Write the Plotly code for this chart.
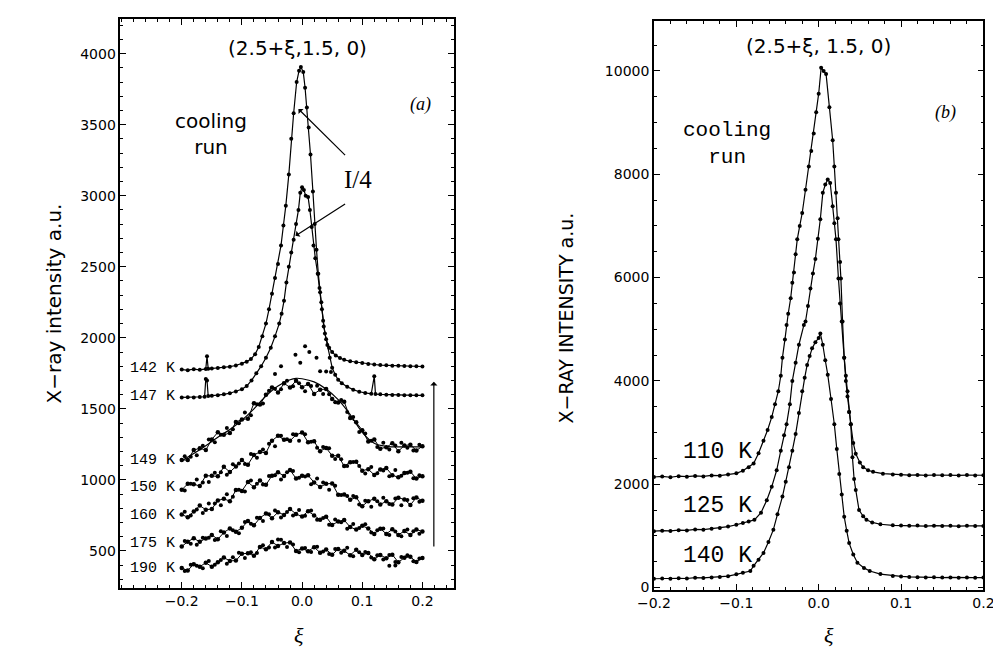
import plotly.graph_objects as go

# ---------------- panel (a): (2.5+xi, 1.5, 0), cooling run ----------------
XI_142 = [-0.200, -0.190, -0.180, -0.170, -0.160, -0.158, -0.156, -0.150, -0.140, -0.130,
          -0.120, -0.110, -0.100, -0.092, -0.085, -0.078, -0.072, -0.066, -0.060, -0.055,
          -0.050, -0.045, -0.040, -0.035, -0.031, -0.027, -0.022, -0.018, -0.014, -0.009,
          -0.005, -0.002, 0.002, 0.005, 0.008, 0.011, 0.014, 0.018, 0.021, 0.024,
          0.027, 0.030, 0.033, 0.036, 0.040, 0.045, 0.050, 0.056, 0.063, 0.070,
          0.080, 0.090, 0.100, 0.110, 0.120, 0.130, 0.140, 0.150, 0.160, 0.170,
          0.180, 0.190, 0.200]
I_142 = [1776, 1772, 1779, 1775, 1781, 1870, 1782, 1784, 1788, 1792,
         1797, 1805, 1818, 1832, 1850, 1885, 1935, 2010, 2100, 2200,
         2310, 2420, 2520, 2650, 2790, 2930, 3150, 3400, 3580, 3800,
         3880, 3905, 3870, 3760, 3620, 3480, 3290, 3030, 2800, 2620,
         2450, 2320, 2200, 2080, 1990, 1930, 1900, 1875, 1858, 1845,
         1835, 1828, 1822, 1816, 1812, 1808, 1806, 1804, 1803, 1801,
         1800, 1799, 1798]

XI_147 = [-0.200, -0.190, -0.180, -0.170, -0.162, -0.160, -0.158, -0.156, -0.150, -0.140,
          -0.130, -0.120, -0.110, -0.100, -0.092, -0.084, -0.076, -0.068, -0.060, -0.052,
          -0.045, -0.038, -0.034, -0.030, -0.026, -0.022, -0.018, -0.014, -0.010, -0.006,
          -0.003, 0.000, 0.003, 0.006, 0.010, 0.013, 0.016, 0.019, 0.022, 0.026,
          0.029, 0.032, 0.035, 0.038, 0.042, 0.046, 0.050, 0.055, 0.060, 0.066,
          0.075, 0.085, 0.095, 0.105, 0.115, 0.120, 0.122, 0.130, 0.140, 0.150,
          0.160, 0.170, 0.180, 0.190, 0.200]
I_147 = [1580, 1582, 1579, 1583, 1585, 1710, 1700, 1590, 1592, 1596,
         1602, 1610, 1622, 1638, 1660, 1700, 1750, 1800, 1860, 1930,
         2010, 2100, 2170, 2260, 2390, 2500, 2600, 2690, 2800, 2900,
         3020, 3060, 3040, 3000, 2990, 2900, 2780, 2650, 2560, 2450,
         2350, 2250, 2120, 2030, 1950, 1860, 1790, 1740, 1705, 1680,
         1655, 1635, 1620, 1612, 1606, 1730, 1604, 1602, 1600, 1598,
         1597, 1596, 1596, 1595, 1595]

# stray points between the scans
XI_STRAY = [-0.035, -0.011, -0.003, 0.005, 0.024, 0.030, 0.040, 0.048, -0.045, 0.012,
            0.145, 0.155, -0.040]
I_STRAY = [1800, 1880, 1825, 1940, 1860, 1765, 1762, 1760, 1745, 1900,
           395, 398, 580]

# noisy scans 149-190 K: whole-step and half-step readings
XI_A = [-0.20, -0.19, -0.18, -0.17, -0.16, -0.15, -0.14, -0.13, -0.12, -0.11,
        -0.10, -0.09, -0.08, -0.07, -0.06, -0.05, -0.04, -0.03, -0.02, -0.01,
        0.00, 0.01, 0.02, 0.03, 0.04, 0.05, 0.06, 0.07, 0.08, 0.09,
        0.10, 0.11, 0.12, 0.13, 0.14, 0.15, 0.16, 0.17, 0.18, 0.19, 0.20]
XI_H = [-0.195, -0.185, -0.175, -0.165, -0.155, -0.145, -0.135, -0.125, -0.115, -0.105,
        -0.095, -0.085, -0.075, -0.065, -0.055, -0.045, -0.035, -0.025, -0.015, -0.005,
        0.005, 0.015, 0.025, 0.035, 0.045, 0.055, 0.065, 0.075, 0.085, 0.095,
        0.105, 0.115, 0.125, 0.135, 0.145, 0.155, 0.165, 0.175, 0.185, 0.195]

I_149 = [1140, 1140, 1210, 1222, 1210, 1285, 1335, 1317, 1330, 1407,
         1425, 1430, 1540, 1530, 1600, 1650, 1615, 1680, 1650, 1698,
         1652, 1675, 1605, 1635, 1640, 1570, 1545, 1550, 1435, 1405,
         1350, 1270, 1285, 1220, 1230, 1257, 1202, 1242, 1247, 1207, 1237]
I_149_H = [1167, 1162, 1173, 1241, 1285, 1265, 1318, 1366, 1356, 1398,
           1475, 1455, 1532, 1537, 1627, 1642, 1637, 1697, 1659, 1680,
           1623, 1660, 1662, 1605, 1602, 1547, 1562, 1477, 1442, 1337,
           1327, 1275, 1232, 1262, 1213, 1242, 1262, 1227, 1207, 1247]
I_150 = [930, 972, 970, 957, 1030, 1030, 1025, 1092, 1055, 1095,
         1140, 1107, 1175, 1197, 1190, 1275, 1310, 1283, 1275, 1317,
         1333, 1265, 1272, 1202, 1225, 1170, 1170, 1097, 1125, 1127,
         1065, 1075, 1035, 1074, 1083, 1033, 1018, 1048, 1058, 1009, 1025]
I_150_H = [926, 973, 1003, 981, 985, 1050, 1053, 1036, 1110, 1115,
           1111, 1183, 1156, 1213, 1255, 1237, 1311, 1286, 1321, 1275,
           1321, 1268, 1227, 1231, 1222, 1147, 1146, 1098, 1126, 1098,
           1045, 1090, 1047, 1066, 1025, 1070, 1030, 1050, 1011, 1032]
I_160 = [757, 737, 778, 819, 790, 795, 855, 867, 850, 928,
         922, 985, 948, 995, 965, 1030, 1053, 1028, 1070, 1010,
         1030, 1032, 982, 950, 972, 975, 895, 898, 860, 877,
         815, 850, 868, 827, 850, 827, 875, 862, 824, 876, 853]
I_160_H = [775, 750, 791, 767, 833, 833, 821, 899, 882, 930,
           919, 995, 972, 968, 1028, 1032, 1003, 1054, 1063, 1015,
           1024, 970, 1009, 981, 931, 958, 894, 887, 886, 826,
           853, 811, 850, 874, 831, 869, 821, 858, 870, 847]
I_175 = [531, 565, 589, 564, 588, 613, 582, 630, 658, 635,
         663, 710, 680, 732, 763, 730, 773, 753, 795, 760,
         742, 780, 750, 720, 740, 683, 707, 717, 668, 650,
         677, 658, 620, 657, 620, 652, 613, 640, 612, 650, 637]
I_175_H = [570, 550, 544, 593, 593, 577, 638, 606, 645, 625,
           704, 692, 733, 710, 759, 784, 735, 774, 750, 788,
           748, 785, 720, 732, 684, 722, 702, 657, 689, 661,
           687, 629, 646, 658, 613, 637, 604, 651, 638, 621]
I_190 = [380, 363, 406, 389, 417, 389, 421, 453, 430, 432,
         480, 483, 467, 528, 512, 563, 535, 555, 560, 500,
         517, 498, 526, 488, 510, 474, 513, 501, 470, 509,
         472, 485, 441, 472, 448, 474, 420, 452, 459, 422, 450]
I_190_H = [359, 402, 395, 378, 430, 402, 437, 409, 456, 488,
           451, 490, 485, 540, 525, 524, 578, 528, 545, 491,
           520, 492, 529, 496, 479, 513, 487, 523, 462, 490,
           493, 453, 469, 440, 471, 422, 458, 470, 428, 446]

# smooth fit drawn through the 149 K scan
XI_FIT149 = [-0.20, -0.18, -0.16, -0.14, -0.12, -0.10, -0.08, -0.06, -0.04, -0.02,
             -0.01, 0.00, 0.02, 0.04, 0.06, 0.08, 0.10, 0.12, 0.14, 0.17, 0.20]
I_FIT149 = [1135, 1185, 1240, 1300, 1355, 1420, 1500, 1590, 1660, 1705,
            1715, 1712, 1690, 1640, 1565, 1460, 1335, 1258, 1236, 1232, 1232]

LABELS_A = ["142 K", "147 K", "149 K", "150 K", "160 K", "175 K", "190 K"]
LABEL_Y_A = [1785, 1585, 1140, 945, 750, 550, 375]

# ---------------- panel (b) ----------------
XI_110 = [-0.200, -0.190, -0.180, -0.170, -0.160, -0.150, -0.140, -0.130, -0.120, -0.110,
          -0.100, -0.092, -0.085, -0.079, -0.073, -0.067, -0.062, -0.057, -0.053, -0.049,
          -0.046, -0.044, -0.041, -0.039, -0.037, -0.034, -0.032, -0.030, -0.028, -0.026,
          -0.023, -0.020, -0.016, -0.012, -0.009, -0.006, -0.003, 0.000, 0.003, 0.006,
          0.009, 0.013, 0.017, 0.019, 0.021, 0.023, 0.024, 0.026, 0.027, 0.029,
          0.031, 0.033, 0.035, 0.037, 0.039, 0.042, 0.045, 0.050, 0.054, 0.060,
          0.066, 0.078, 0.090, 0.100, 0.110, 0.120, 0.130, 0.140, 0.150, 0.160,
          0.170, 0.180, 0.190, 0.200]
I_110 = [2140, 2150, 2135, 2155, 2145, 2160, 2150, 2170, 2165, 2190,
         2210, 2260, 2330, 2400, 2600, 2840, 3050, 3300, 3550, 3800,
         4100, 4450, 4800, 5080, 5300, 5600, 5900, 6100, 6450, 6740,
         7000, 7250, 7700, 8150, 8450, 8790, 9200, 9560, 10060, 10000,
         9940, 9300, 8660, 8150, 7640, 7150, 6740, 6300, 5980, 5150,
         4450, 4100, 3800, 3400, 3160, 2800, 2590, 2420, 2330, 2270,
         2240, 2205, 2190, 2185, 2175, 2180, 2170, 2178, 2172, 2180,
         2170, 2176, 2170, 2174]

XI_125 = [-0.200, -0.190, -0.180, -0.170, -0.160, -0.150, -0.140, -0.130, -0.120, -0.110,
          -0.100, -0.092, -0.085, -0.078, -0.070, -0.063, -0.057, -0.051, -0.046, -0.042,
          -0.039, -0.035, -0.032, -0.028, -0.024, -0.018, -0.016, -0.013, -0.010, -0.007,
          -0.004, -0.001, 0.002, 0.005, 0.008, 0.011, 0.014, 0.017, 0.019, 0.021,
          0.024, 0.026, 0.028, 0.031, 0.033, 0.035, 0.037, 0.039, 0.041, 0.043,
          0.045, 0.049, 0.054, 0.058, 0.065, 0.075, 0.090, 0.100, 0.110, 0.120,
          0.130, 0.140, 0.150, 0.160, 0.170, 0.180, 0.190, 0.200]
I_125 = [1090, 1100, 1095, 1110, 1105, 1125, 1120, 1140, 1150, 1180,
         1215, 1250, 1280, 1310, 1450, 1690, 1950, 2270, 2650, 2950,
         3160, 3550, 4000, 4350, 4700, 5080, 5150, 5450, 5790, 6080,
         6360, 6750, 7130, 7640, 7800, 7900, 7830, 7380, 7050, 6740,
         5980, 5500, 5150, 4450, 4000, 3700, 3400, 3160, 2520, 2100,
         1890, 1500, 1380, 1310, 1260, 1225, 1205, 1200, 1195, 1200,
         1190, 1198, 1190, 1195, 1188, 1195, 1190, 1192]

XI_140 = [-0.200, -0.190, -0.180, -0.170, -0.160, -0.150, -0.140, -0.130, -0.120, -0.110,
          -0.100, -0.092, -0.083, -0.079, -0.073, -0.067, -0.061, -0.055, -0.050, -0.044,
          -0.040, -0.036, -0.032, -0.028, -0.024, -0.020, -0.017, -0.014, -0.011, -0.008,
          -0.004, 0.000, 0.002, 0.005, 0.008, 0.011, 0.015, 0.019, 0.022, 0.025,
          0.028, 0.031, 0.034, 0.037, 0.042, 0.047, 0.055, 0.062, 0.075, 0.090,
          0.100, 0.110, 0.120, 0.130, 0.140, 0.150, 0.160, 0.170, 0.180, 0.190, 0.200]
I_140 = [170, 175, 168, 180, 175, 190, 185, 195, 205, 220,
         255, 285, 320, 420, 540, 670, 880, 1120, 1420, 1760,
         2050, 2330, 2650, 2970, 3380, 3800, 4060, 4310, 4480, 4630,
         4750, 4830, 4920, 4700, 4400, 4120, 3650, 3160, 2680, 2200,
         1800, 1370, 1100, 860, 640, 480, 380, 320, 260, 225,
         215, 205, 200, 195, 198, 192, 196, 190, 194, 190, 192]

LABELS_B = ["110 K", "125 K", "140 K"]
LABEL_Y_B = [2620, 1570, 610]

fig = go.Figure()

dot = dict(color="black", size=4)
ln = dict(color="black", width=1.2)

for xs, ys in [(XI_142, I_142), (XI_147, I_147)]:
    fig.add_trace(go.Scatter(x=xs, y=ys, mode="lines+markers", line=ln, marker=dot,
                             xaxis="x", yaxis="y", showlegend=False))
for ys, ys_h in [(I_149, I_149_H), (I_150, I_150_H), (I_160, I_160_H), (I_175, I_175_H), (I_190, I_190_H)]:
    fig.add_trace(go.Scatter(x=XI_A, y=ys, mode="lines+markers", line=dict(color="black", width=1),
                             marker=dict(color="black", size=4.5), xaxis="x", yaxis="y", showlegend=False))
    fig.add_trace(go.Scatter(x=XI_H, y=ys_h, mode="markers", marker=dict(color="black", size=4),
                             xaxis="x", yaxis="y", showlegend=False))
fig.add_trace(go.Scatter(x=XI_FIT149, y=I_FIT149, mode="lines", line=dict(color="black", width=1.2, shape="spline"),
                         xaxis="x", yaxis="y", showlegend=False))
fig.add_trace(go.Scatter(x=XI_STRAY, y=I_STRAY, mode="markers", marker=dot,
                         xaxis="x", yaxis="y", showlegend=False))

for xs, ys in [(XI_110, I_110), (XI_125, I_125), (XI_140, I_140)]:
    fig.add_trace(go.Scatter(x=xs, y=ys, mode="lines+markers", line=ln, marker=dot,
                             xaxis="x2", yaxis="y2", showlegend=False))

tickfont = dict(family="DejaVu Sans", size=14, color="black")
ax_common = dict(showline=True, linecolor="black", linewidth=1.5, mirror="ticks",
                 ticks="inside", ticklen=6, tickwidth=1.2, tickcolor="black",
                 showgrid=False, zeroline=False, tickfont=tickfont)

fig.update_layout(
    width=1001, height=649,
    margin=dict(l=0, r=0, t=0, b=0),
    paper_bgcolor="white", plot_bgcolor="white",
    xaxis=dict(domain=[0.098, 0.4406], range=[-0.302, 0.252], anchor="y",
               tickvals=[-0.2, -0.1, 0.0, 0.1, 0.2], tickformat=".1f",
               minor=dict(ticks="inside", ticklen=3, dtick=0.02, tick0=0, tickcolor="black"),
               **ax_common),
    yaxis=dict(domain=[0.0986, 0.983], range=[242, 4244], anchor="x",
               tickvals=[500, 1000, 1500, 2000, 2500, 3000, 3500, 4000], tickformat="d",
               minor=dict(ticks="inside", ticklen=3, dtick=100, tick0=0, tickcolor="black"),
               **ax_common),
    xaxis2=dict(domain=[0.6464, 0.985], range=[-0.2, 0.2], anchor="y2",
                tickvals=[-0.2, -0.1, 0.0, 0.1, 0.2], tickformat=".1f",
                minor=dict(ticks="inside", ticklen=3, dtick=0.02, tick0=0, tickcolor="black"),
                **ax_common),
    yaxis2=dict(domain=[0.0955, 0.98], range=[-40, 10970], anchor="x2",
                tickvals=[0, 2000, 4000, 6000, 8000, 10000], tickformat="d",
                minor=dict(ticks="inside", ticklen=3, dtick=500, tick0=0, tickcolor="black"),
                **ax_common),
)

sans = "DejaVu Sans"
mono = "Liberation Mono"
serif = "Liberation Serif"


def txt(x, y, text, font, size, angle=0):
    # text placed in pixel coordinates of the 1001x649 page, centred
    return dict(xref="paper", yref="paper", x=x / 1001, y=1 - y / 649, text=text,
                xanchor="center", yanchor="middle", textangle=angle, showarrow=False,
                font=dict(family=font, size=size, color="black"))


ann = []
# panel (a) texts
ann.append(txt(280, 40, "(2.5+ξ,1.5, 0)", sans, 20))
ann.append(txt(191, 127, "cooling<br>run", sans, 20))
ann.append(txt(407, 97, "<i>(a)</i>", serif, 18))
ann.append(txt(343, 173, "I/4", serif, 25))
ann.append(dict(xref="x", yref="y", axref="x", ayref="y", x=-0.006, y=3610, ax=0.074, ay=3275,
                text="", showarrow=True, arrowhead=1, arrowsize=1, arrowwidth=1.2, arrowcolor="black"))
ann.append(dict(xref="x", yref="y", axref="x", ayref="y", x=-0.011, y=2718, ax=0.074, ay=2948,
                text="", showarrow=True, arrowhead=1, arrowsize=1, arrowwidth=1.2, arrowcolor="black"))
ann.append(dict(xref="x", yref="y", axref="x", ayref="y", x=0.219, y=1690, ax=0.219, ay=520,
                text="", showarrow=True, arrowhead=1, arrowsize=1, arrowwidth=1.2, arrowcolor="black"))
for t, yv in zip(LABELS_A, LABEL_Y_A):
    ann.append(dict(xref="x", yref="y", x=-0.289, y=yv, text=t, xanchor="left", yanchor="middle",
                    showarrow=False, font=dict(family=mono, size=15, color="black")))
ann.append(txt(30, 298, "X−ray intensity a.u.", sans, 20, -90))
ann.append(txt(282, 633, "<i>ξ</i>", serif, 22))

# panel (b) texts
ann.append(txt(816, 38, "(2.5+ξ, 1.5, 0)", sans, 20))
ann.append(txt(722, 137, "cooling<br>run", mono, 21))
ann.append(txt(947, 105, "<i>(b)</i>", serif, 18))
for t, yv in zip(LABELS_B, LABEL_Y_B):
    ann.append(dict(xref="x2", yref="y2", x=-0.167, y=yv, text=t, xanchor="left", yanchor="middle",
                    showarrow=False, font=dict(family=mono, size=23, color="black")))
ann.append(txt(557, 313, "X−RAY INTENSITY a.u.", sans, 19, -90))
ann.append(txt(827, 633, "<i>ξ</i>", serif, 22))

fig.update_layout(annotations=ann)

fig.write_html("out.html")
